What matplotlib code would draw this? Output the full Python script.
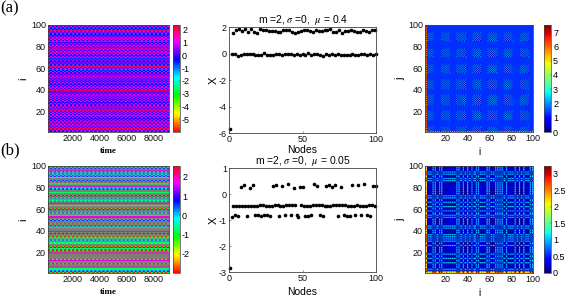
import numpy as np
import matplotlib
matplotlib.use("Agg")
import matplotlib.pyplot as plt
from matplotlib.cm import ScalarMappable
from matplotlib.colors import Normalize

plt.rcParams['font.family'] = ['Liberation Sans', 'DejaVu Sans']
plt.rcParams['mathtext.fontset'] = 'stix'
plt.rcParams['axes.unicode_minus'] = False

W, H = 581, 297

# ---- scatter data, panel (a)
a_first = [(1, -5.7)]
a_upper_nodes = list(range(3, 100, 2))
a_upper_vals = [1.56, 1.77, 1.87, 1.72, 1.82, 1.62, 1.85, 1.6, 1.53, 1.86, 1.76, 1.74, 1.72, 1.7, 1.68, 1.66, 1.62,
                1.78, 1.8, 1.76, 1.66, 1.55, 1.62, 1.72, 1.75, 1.78, 1.72, 1.65, 1.76, 1.68, 1.72, 1.78, 1.74, 1.82,
                1.66, 1.6, 1.76, 1.58, 1.7, 1.72, 1.78, 1.72, 1.66, 1.6, 1.8, 1.7, 1.66, 1.76, 1.8]
a_lower_nodes = list(range(2, 101, 2))
a_lower_vals = [-0.05, -0.02, -0.2, -0.1, -0.05, 0.0, 0.0, -0.05, -0.12, -0.15, -0.15, 0.03, -0.12, -0.14, -0.1, -0.05,
                -0.07, -0.08, -0.06, -0.05, 0.0, -0.1, -0.03, -0.1, 0.0, -0.08, 0.03, -0.1, -0.02, -0.02, -0.08, -0.16,
                -0.03, -0.12, -0.02, -0.1, -0.02, -0.12, -0.08, -0.1, -0.12, 0.0, -0.08, -0.15, 0.0, -0.06, -0.15, 0.0,
                -0.14, -0.02]

# ---- scatter data, panel (b)
b_first = [(1, -2.85)]
b_upper_nodes = [8, 10, 14, 16, 30, 32, 36, 40, 44, 48, 50, 58, 60, 66, 68, 70, 72, 76, 84, 88, 92, 98, 100]
b_upper_vals = [0.28, 0.33, 0.24, 0.33, 0.29, 0.36, 0.3, 0.38, 0.22, 0.26, 0.26, 0.38, 0.3, 0.32, 0.33, 0.26, 0.35, 0.27,
                0.33, 0.34, 0.39, 0.32, 0.31]
b_lower_nodes = [2, 4, 6, 12, 18, 20, 22, 24, 26, 28, 34, 38, 42, 46, 47, 52, 54, 56, 62, 64, 74, 78, 80, 82, 86, 90, 94, 96]
b_lower_vals = [-0.88, -0.82, -0.85, -0.85, -0.82, -0.8, -0.85, -0.82, -0.82, -0.84, -0.83, -0.8, -0.8, -0.8, -0.87,
                -0.86, -0.83, -0.8, -0.8, -0.85, -0.85, -0.79, -0.83, -0.84, -0.8, -0.81, -0.8, -0.85]
b_mid_nodes = list(range(3, 100, 2))
b_mid_vals = [-0.45, -0.47, -0.45, -0.45, -0.46, -0.45, -0.46, -0.47, -0.45, -0.44, -0.43, -0.46, -0.45, -0.47, -0.42,
              -0.44, -0.47, -0.45, -0.42, -0.43, -0.42, -0.43, -0.42, -0.44, -0.45, -0.46, -0.45, -0.43, -0.42, -0.44,
              -0.43, -0.46, -0.47, -0.45, -0.43, -0.44, -0.42, -0.43, -0.42, -0.45, -0.45, -0.46, -0.44, -0.46, -0.45,
              -0.47, -0.44, -0.43, -0.48]

# ---- space-time rows: code for each node, bottom to top
row_codes_a = ("lpqrpqmpqr" "pqvpqmpqpq" "rpqmlpqvpq" "lqpqmpqvrp" "qmpqvpqlqp"
               "qmpqvpqlmp" "qrplqvpqlm" "qvpqmpqrpq" "mpqvrpqmpq" "vlpqrqlpqr")
row_values_a = {'p': (1.1, -0.4), 'q': (-0.4, 1.1), 'm': (1.6, 0.5), 'r': (2.25, 2.0),
                'l': (-0.9, -0.4), 'v': (0.4, -0.4)}
row_period_a = {'p': 4, 'q': 4, 'm': 4, 'r': 4, 'l': 4, 'v': 4}
row_codes_b = ("rbcGGmggrg" "gmcgggggmg" "rrGbrggGGg" "cgGrggbgmg" "ggGbgrggbr"
               "gmmGgcggbr" "ggGgmgcGgc" "rbggGggbcg" "mgGgrbggGb" "rcgcmgbrGb")
row_values_b = {'g': (-1.0, 1.9), 'b': (0.1, 1.1), 'G': (-0.9, -0.6), 'm': (1.6, 1.9),
                'c': (-0.3, 0.4), 'r': (2.4, -1.2)}
row_period_b = {'g': 1, 'b': 4, 'G': 4, 'm': 4, 'c': 4, 'r': 4}
n_steps = 240

# ---- distance-matrix block ranges, panel (a)
a_block_cols = [(1, 8), (16, 23), (30, 38), (45, 52), (59, 67), (74, 81), (89, 96)]
a_block_rows = [(1, 5), (12, 20), (26, 35), (41, 49), (56, 63), (71, 78), (86, 93)]
a_base = 1.3
a_check = (0.4, 2.1)

# ---- axis ranges
clim_left = [(-6.0, 2.36), (-3.0, 2.57)]
clim_right = [(0, 7.5), (0, 3.23)]
time_range = (150, 9110)
cticks_left = [[-5, -4, -3, -2, -1, 0, 1, 2], [-2, -1, 0, 1, 2]]
cticks_right = [[0, 1, 2, 3, 4, 5, 6, 7], [0, 0.5, 1, 1.5, 2, 2.5, 3]]
cticklabels_right = [['0', '1', '2', '3', '4', '5', '6', '7'], ['0', '0.5', '1', '1.5', '2', '2.5', '3']]
scatter_ylim = [(-6, 2), (-3, 1)]
scatter_yticks = [[-6, -4, -2, 0, 2], [-3, -2, -1, 0, 1]]
titles = [r'm =2, $\sigma$ =0,  $\mu$ = 0.4', r'm =2, $\sigma$ =0,  $\mu$ = 0.05']
panel_labels = ['(a)', '(b)']

# ---- assemble node vectors
Xa = np.zeros(100)
Xa[0] = a_first[0][1]
Xa[np.array(a_upper_nodes) - 1] = a_upper_vals
Xa[np.array(a_lower_nodes) - 1] = a_lower_vals
Xb = np.zeros(100)
Xb[np.array(b_mid_nodes) - 1] = b_mid_vals
Xb[np.array(b_lower_nodes) - 1] = b_lower_vals
Xb[np.array(b_upper_nodes) - 1] = b_upper_vals
Xb[0] = b_first[0][1]


def spacetime(codes, vals, periods):
    m = np.zeros((100, n_steps))
    for i, c in enumerate(codes):
        for t in range(n_steps):
            m[i, t] = vals[c][(t // periods[c]) % 2]
    return m


def dist_a():
    d = np.full((100, 100), a_base)
    for r0, r1 in a_block_rows:
        for c0, c1 in a_block_cols:
            for j in range(r0 - 1, r1):
                for i in range(c0 - 1, c1):
                    d[j, i] = a_check[(i + j) % 2]
    d[:, 0] = np.abs(Xa[0] - Xa)
    d[0, :] = np.abs(Xa[0] - Xa)
    return d


def dist_b():
    rows = np.concatenate([[Xb[0]], Xb[:0:-1]])
    return np.abs(rows[:, None] - Xb[None, :])


fig = plt.figure(figsize=(W / 100, H / 100), dpi=100)
FRAME = '#444444'


def axpx(x0, y0, x1, y1):
    return fig.add_axes([x0 / W, 1 - y1 / H, (x1 - x0) / W, (y1 - y0) / H])


def style(ax):
    for s in ax.spines.values():
        s.set_linewidth(0.6)
        s.set_color(FRAME)
    ax.tick_params(direction='in', length=1.5, width=0.4, labelsize=6.5, pad=1.5, color=FRAME, labelcolor='#111111')


def cbar(im_norm, cmap, x0, y0, x1, y1, ticks, labels=None):
    cax = axpx(x0, y0, x1, y1)
    cb = fig.colorbar(ScalarMappable(norm=im_norm, cmap=cmap), cax=cax)
    cb.set_ticks(ticks)
    if labels:
        cb.set_ticklabels(labels)
    cb.outline.set_linewidth(0.5)
    cb.outline.set_edgecolor(FRAME)
    cax.tick_params(direction='in', length=1, width=0.3, labelsize=6.5, pad=1.5)


serif_bold = dict(family='Liberation Serif', fontweight='bold', fontsize=6.5)
left_m = [spacetime(row_codes_a, row_values_a, row_period_a), spacetime(row_codes_b, row_values_b, row_period_b)]
right_m = [dist_a(), dist_b()]
rows_px = [(25, 132), (166, 273)]
mid_px = [(27, 133), (168, 272)]
nodes_pad = [0.5, 2.5]

for k in range(2):
    y0, y1 = rows_px[k]
    # left
    ax = axpx(48, y0, 169, y1)
    nl = Normalize(*clim_left[k])
    ax.imshow(left_m[k], origin='lower', aspect='auto', cmap='hsv', norm=nl,
              extent=(time_range[0], time_range[1], 1, 100), interpolation='hanning',
              interpolation_stage='rgba')
    ax.set_xticks([2000, 4000, 6000, 8000])
    ax.set_yticks([20, 40, 60, 80, 100])
    style(ax)
    ax.set_xlabel('time', labelpad=2.5, **serif_bold)
    ax.set_ylabel('i', fontsize=8, labelpad=2)
    cbar(nl, 'hsv', 173, y0, 180, y1, cticks_left[k])

    # middle
    ym0, ym1 = mid_px[k]
    ax = axpx(229, ym0, 376, ym1)
    X = Xa if k == 0 else Xb
    ax.plot(np.arange(1, 101), X, 'o', color='black', ms=2.6, mew=0, clip_on=False)
    ax.set_xlim(0, 100)
    ax.set_ylim(*scatter_ylim[k])
    ax.set_xticks([0, 50, 100])
    ax.set_yticks(scatter_yticks[k])
    style(ax)
    ax.set_xlabel('Nodes', fontsize=7.5, labelpad=nodes_pad[k])
    ax.set_ylabel('X', fontsize=8, labelpad=0)
    ax.set_title(titles[k], fontsize=7.4, pad=2)

    # right
    ax = axpx(425, y0, 533, y1)
    nr = Normalize(*clim_right[k])
    common = dict(origin='lower', aspect='auto', cmap='jet', norm=nr, interpolation='bilinear',
                  interpolation_stage='rgba')
    ax.imshow(right_m[k], extent=(1, 100, 1, 100), **common)
    # first node's column and row, kept visible beside the frame
    ax.imshow(right_m[k][:, :1], extent=(1, 2.2, 1, 100), **common)
    ax.imshow(right_m[k][:1, :], extent=(1, 100, 1, 1.8), **common)
    ax.set_xlim(1, 100)
    ax.set_ylim(1, 100)
    ax.set_xticks([20, 40, 60, 80, 100])
    ax.set_yticks([20, 40, 60, 80, 100])
    style(ax)
    ax.set_xlabel('i', fontsize=7, labelpad=2.5)
    ax.set_ylabel('j', fontsize=8, labelpad=2)
    cbar(nr, 'jet', 544, y0, 551, y1, cticks_right[k], cticklabels_right[k])

fig.text(0 / W, 1 - 8 / H, panel_labels[0], family='Liberation Serif', fontsize=12, va='center')
fig.text(0 / W, 1 - 150 / H, panel_labels[1], family='Liberation Serif', fontsize=12, va='center')

fig.savefig('out.png', dpi=100)
